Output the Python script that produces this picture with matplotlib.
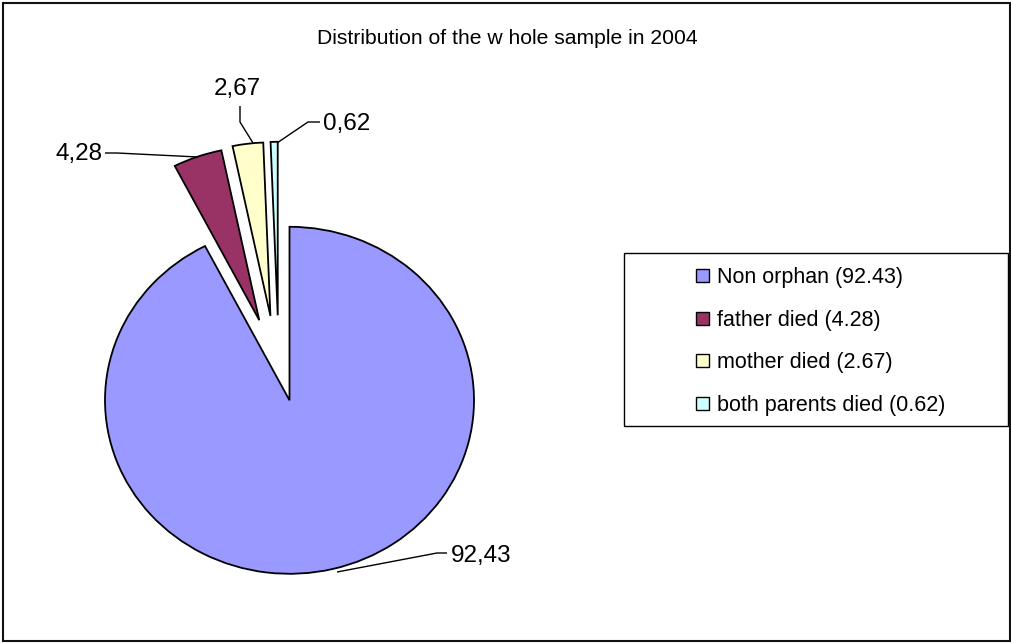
import matplotlib
matplotlib.use("Agg")
import matplotlib.pyplot as plt
from matplotlib.patches import Rectangle

plt.rcParams["font.family"] = ["Liberation Sans", "DejaVu Sans"]

# --- data ---
categories = ["Non orphan", "father died", "mother died", "both parents died"]
shares = [92.43, 4.28, 2.67, 0.62]
colors = ["#9999FF", "#993366", "#FFFFCC", "#CCFFFF"]
explode = [0.0, 0.49, 0.49, 0.49]
title = "Distribution of the w hole sample in 2004"

# --- canvas (pixel layout) ---
W, H = 1012, 643
fig = plt.figure(figsize=(W / 100, H / 100), dpi=100)

# pie centre / radii in pixels (slightly flattened, as in the spreadsheet chart)
cx, cy, rx, ry = 289.5, 400.3, 184.5, 173.5
# extra sideways nudge (px) of the pulled-out slices
nudge_px = [0, 0, -8, -10]

ax = fig.add_axes([0, 0, 1, 1])
wedges, _ = ax.pie(shares, colors=colors, explode=explode, startangle=90,
                   counterclock=False, radius=1, center=(0, 0),
                   wedgeprops=dict(edgecolor="black", linewidth=1.3))
for w, dx in zip(wedges, nudge_px):
    x0, y0 = w.center
    w.set_center((x0 + dx / rx, y0))
ax.set_aspect("auto")
ax.set_xlim(-cx / rx, (W - cx) / rx)
ax.set_ylim(-(H - cy) / ry, cy / ry)
ax.set_position([0, 0, 1, 1])
ax.axis("off")

# overlay in pixel coordinates for frame, title, labels and legend
ov = fig.add_axes([0, 0, 1, 1])
ov.set_xlim(0, W)
ov.set_ylim(H, 0)
ov.axis("off")
ov.patch.set_visible(False)

# chart frame
ov.add_patch(Rectangle((3, 3), 1007, 638, fill=False, edgecolor="#111111",
                       linewidth=1.5))

ov.text(507.5, 44, title, ha="center", va="baseline", fontsize=15.2)

# data labels with leader lines
label_pos = [(451, 562, "left"), (103, 160, "right"),
             (237, 95, "center"), (323, 130, "left")]
leaders = [
    [(337, 572), (437, 553), (447, 553)],
    [(198, 157), (117, 153), (105, 153)],
    [(253, 143), (240, 122), (240, 106)],
    [(277, 143), (308, 122), (320, 122)],
]
for v, (x, y, ha), path in zip(shares, label_pos, leaders):
    xs, ys = zip(*path)
    ov.plot(xs, ys, color="black", linewidth=1.0, solid_capstyle="butt")
    ov.text(x, y, f"{v:.2f}".replace(".", ","), ha=ha, va="baseline",
            fontsize=17.5)

# legend
ov.add_patch(Rectangle((624, 253), 384, 173, fill=False, edgecolor="black",
                       linewidth=1.0))
row_y = [275, 318, 360, 403]
for cat, v, c, y in zip(categories, shares, colors, row_y):
    ov.add_patch(Rectangle((696, y - 6.5), 13, 13, facecolor=c,
                           edgecolor="black", linewidth=1.0))
    ov.text(717, y + 8, f"{cat} ({v:.2f})", ha="left", va="baseline",
            fontsize=15.5)

fig.savefig("out.png", dpi=100, facecolor="white")
